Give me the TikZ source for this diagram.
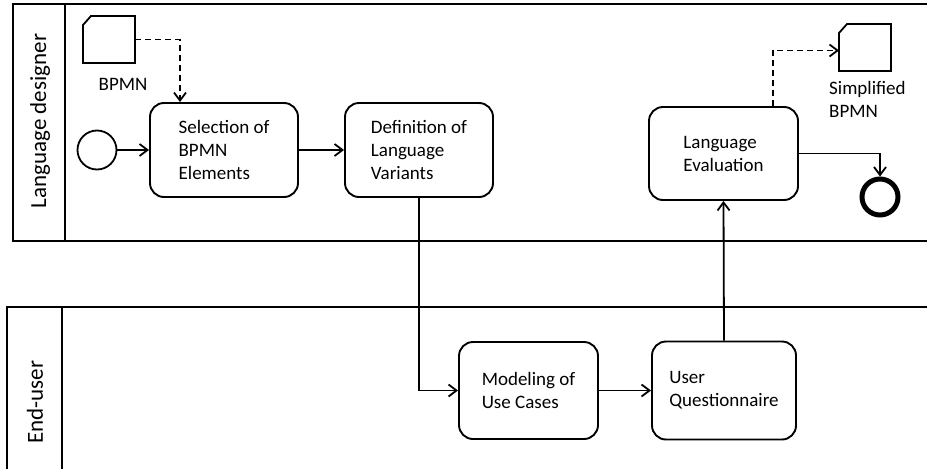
\documentclass[tikz,border=0pt]{standalone}
\usepackage{fontspec}
\setmainfont{Carlito}
\usetikzlibrary{arrows.meta}
\begin{document}
\begin{tikzpicture}[x=1pt,y=-1pt,
  pool/.style={line width=2.2pt},
  task/.style={draw, line width=1.9pt, rounded corners=14pt, align=left,
    font=\fontsize{19}{23}\selectfont, inner sep=0pt},
  lbl/.style={font=\fontsize{19}{23}\selectfont, align=left, inner sep=0pt},
  hdr/.style={font=\fontsize{23}{27}\selectfont, rotate=90, inner sep=0pt},
  flow/.style={line width=1.8pt, -{Straight Barb[length=8pt,width=12pt,line width=1.8pt]}},
  assoc/.style={flow, dash pattern=on 6pt off 4pt},
  dobj/.style={minimum width=52pt, minimum height=47pt, inner sep=0pt, outer sep=0pt},
  startev/.style={draw, circle, line width=1.8pt, minimum size=39pt, inner sep=0pt},
  endev/.style={draw, circle, line width=5pt, minimum size=36pt, inner sep=0pt}]
\useasboundingbox (0,0) rectangle (927,469);
% pools
\draw[pool] (927,4) -- (13,4) -- (13,241) -- (927,241);
\draw[pool] (65,4) -- (65,241);
\draw[pool] (927,307) -- (7,307) -- (7,469);
\draw[pool] (62,307) -- (62,469);
\node[hdr] (h1) at (40,121) {Language designer};
\node[hdr] (h2) at (35,402) {End-user};
% data objects
\node[dobj] (d1) at (109,39.5) {};
\draw[line width=1.8pt] ([yshift=-9pt]d1.north west) -- ([xshift=8pt]d1.north west) -- (d1.north east) -- (d1.south east) -- (d1.south west) -- cycle;
\node[lbl, anchor=center] (d1l) at (123,84) {BPMN};
\node[dobj] (d2) at (865,47.5) {};
\draw[line width=1.8pt] ([yshift=-9pt]d2.north west) -- ([xshift=8pt]d2.north west) -- (d2.north east) -- (d2.south east) -- (d2.south west) -- cycle;
\node[lbl, anchor=west] (d2l) at (829,99) {Simplified\\BPMN};
% events
\node[startev] (s) at (97,150) {};
\node[endev] (e) at (880,197) {};
% tasks
\node[task, minimum width=148pt, minimum height=94pt] (t1) at (224,150) {Selection of\\BPMN\\Elements};
\node[task, minimum width=148pt, minimum height=94pt] (t2) at (419,150) {Definition of\\Language\\Variants};
\node[task, minimum width=149pt, minimum height=93pt] (ev) at (723.5,153.5) {Language\\Evaluation};
\node[task, minimum width=139pt, minimum height=97pt] (mo) at (528.5,390.5) {Modeling of\\Use Cases};
\node[task, minimum width=144pt, minimum height=98pt] (uq) at (724,390.5) {User\\Questionnaire};
% flows
\draw[flow] (s) -- (t1);
\draw[flow] (t1) -- (t2);
\draw[flow] (t2.south) |- (mo.west);
\draw[flow] (mo) -- (uq);
\draw[flow] (uq.north) -- (ev.south);
\draw[flow] (ev.east) -| (e.north);
% associations
\draw[assoc] (d1.east) -| ([xshift=-44pt]t1.north);
\draw[assoc] ([xshift=49.5pt]ev.north) |- ([yshift=-3pt]d2.west);
\end{tikzpicture}
\end{document}
